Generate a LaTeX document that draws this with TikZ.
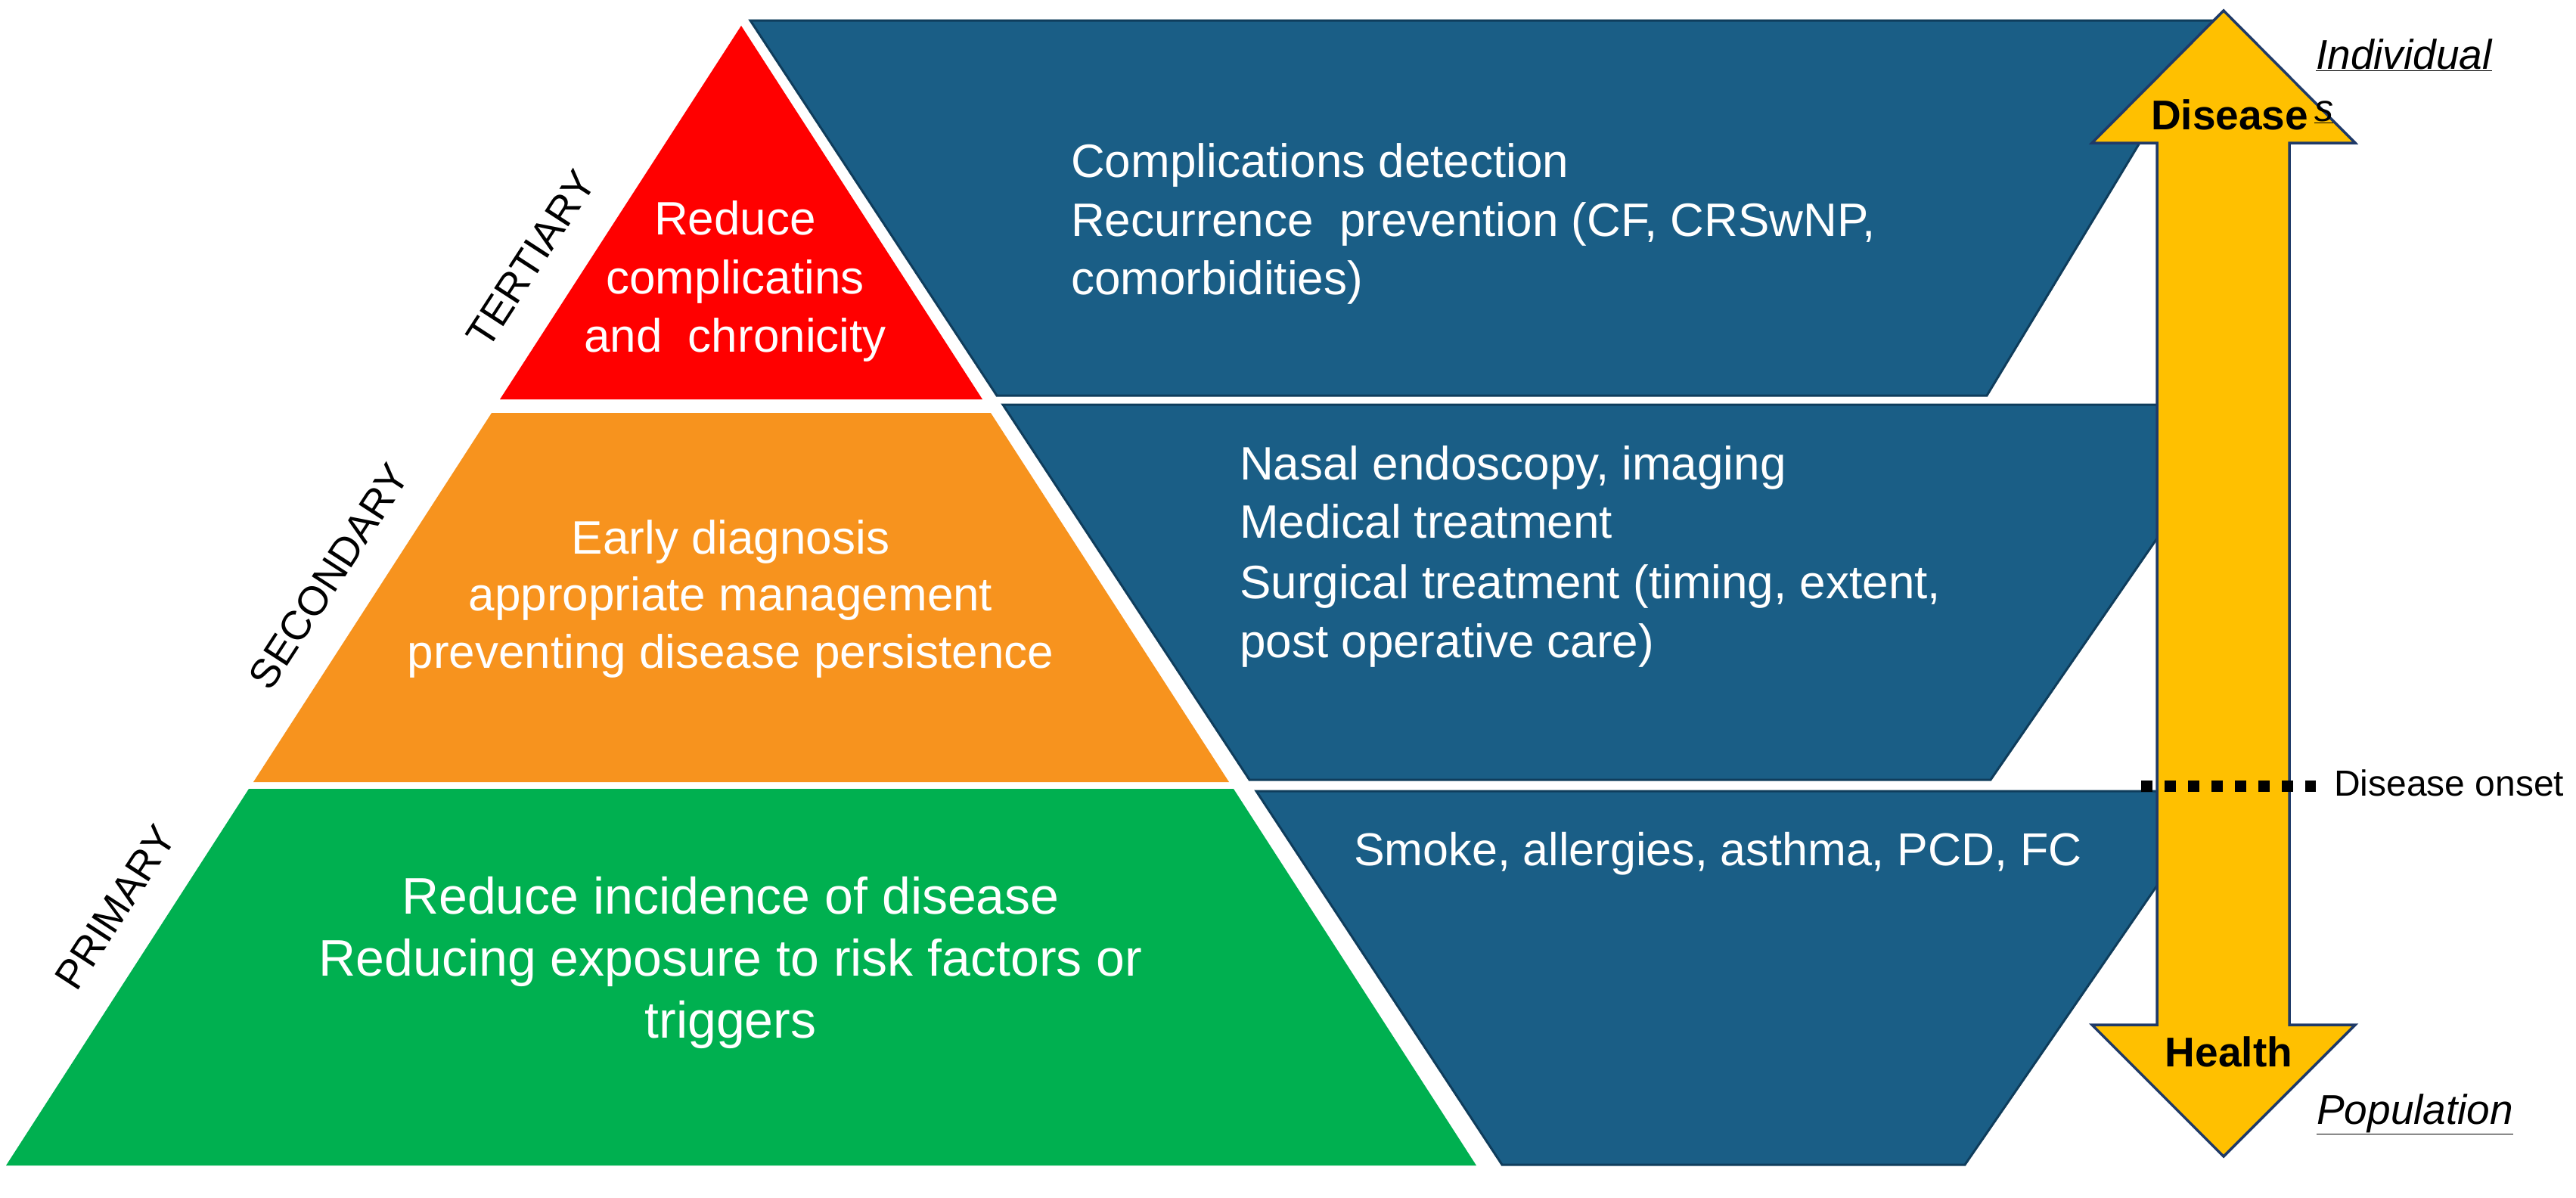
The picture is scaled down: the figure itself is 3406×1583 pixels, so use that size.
\documentclass[tikz,border=0pt]{standalone}
\usepackage{fontspec}
\setmainfont{Liberation Sans}
\definecolor{redf}{HTML}{FF0000}
\definecolor{orangef}{HTML}{F7931E}
\definecolor{greenf}{HTML}{00B050}
\definecolor{bluef}{HTML}{1A5E86}
\definecolor{blueline}{HTML}{0F3D5C}
\definecolor{yellowf}{HTML}{FFC000}
\definecolor{arrowline}{HTML}{1F3A68}
\tikzset{
  bluebox/.style={fill=bluef, draw=blueline, line width=3pt, line join=miter},
  pyr/.style={draw=none},
  wtxt/.style={text=white, inner sep=0pt, font=\fontsize{62}{78}\selectfont},
  gtxt/.style={text=white, inner sep=0pt, font=\fontsize{68}{82}\selectfont},
  lvl/.style={text=black, inner sep=0pt, font=\fontsize{54}{60}\selectfont, rotate=57},
  arrowbody/.style={fill=yellowf, draw=arrowline, line width=3.5pt, line join=miter},
  boldtxt/.style={text=black, inner sep=0pt, font=\fontsize{55}{60}\selectfont\bfseries},
  sidetxt/.style={text=black, inner sep=0pt, font=\fontsize{55}{60}\selectfont\itshape},
  onsettxt/.style={text=black, inner sep=0pt, font=\fontsize{48}{56}\selectfont},
  onsetline/.style={line width=15pt, dash pattern=on 15pt off 16pt, black},
}
\begin{document}
\begin{tikzpicture}[x=1pt,y=-1pt]
\useasboundingbox (0,0) rectangle (3406,1583);

% ---- pyramid ----
\fill[redf] (980,34) -- (1299,528) -- (661,528) -- cycle;
\fill[orangef] (650,546) -- (1310,546) -- (1625,1034) -- (335,1034) -- cycle;
\fill[greenf] (329,1043) -- (1631,1043) -- (1952,1541) -- (8,1541) -- cycle;

% ---- funnel ----
\draw[bluebox] (992,27) -- (2927,27) -- (2627,523) -- (1318,523) -- cycle;
\draw[bluebox] (1326,535) -- (2974,535) -- (2632,1031) -- (1652,1031) -- cycle;
\draw[bluebox] (1661,1046) -- (2938,1046) -- (2598,1540) -- (1986,1540) -- cycle;

% ---- level labels ----
\node[lvl] (ter) at (702,342) {TERTIARY};
\node[lvl] (sec) at (435,762) {SECONDARY};
\node[lvl] (pri) at (153,1200) {PRIMARY};

% ---- pyramid texts ----
\node[wtxt, anchor=base] (r1) at (972,310) {Reduce};
\node[wtxt, anchor=base] (r2) at (972,388) {complicatins};
\node[wtxt, anchor=base] (r3) at (972,465) {and\ \ chronicity};

\node[wtxt, anchor=base] (o1) at (966,732) {Early diagnosis};
\node[wtxt, anchor=base] (o2) at (966,807) {appropriate management};
\node[wtxt, anchor=base] (o3) at (966,883) {preventing disease persistence};

\node[gtxt, anchor=base] (g1) at (966,1208) {Reduce incidence of disease};
\node[gtxt, anchor=base] (g2) at (966,1290) {Reducing exposure to risk factors or};
\node[gtxt, anchor=base] (g3) at (966,1372) {triggers};

% ---- funnel texts ----
\node[wtxt, anchor=base west] (t1) at (1416,234) {Complications detection};
\node[wtxt, anchor=base west] (t2) at (1416,312) {Recurrence\ \ prevention (CF, CRSwNP,};
\node[wtxt, anchor=base west] (t3) at (1416,389) {comorbidities)};

\node[wtxt, anchor=base west] (s1) at (1639,634) {Nasal endoscopy, imaging};
\node[wtxt, anchor=base west] (s2) at (1639,711) {Medical treatment};
\node[wtxt, anchor=base west] (s3) at (1639,791) {Surgical treatment (timing, extent,};
\node[wtxt, anchor=base west] (s4) at (1639,869) {post operative care)};

\node[wtxt, anchor=base west, font=\fontsize{61}{78}\selectfont] (p1) at (1790,1144) {Smoke, allergies, asthma, PCD, FC};

% ---- double arrow ----
\draw[arrowbody] (2940,14) -- (3114,189) -- (3027,189) -- (3027,1355) -- (3114,1355)
  -- (2940,1529) -- (2766,1355) -- (2852,1355) -- (2852,189) -- (2766,189) -- cycle;
\node[boldtxt, anchor=base] (dis) at (2948,171) {Disease};
\node[boldtxt, anchor=base] (hea) at (2947,1410) {Health};

% ---- side texts ----
\node[sidetxt, anchor=base west] (ind) at (3062,91) {\underline{Individual}};
\node[sidetxt, anchor=base west, font=\fontsize{50}{56}\selectfont\itshape] (ss) at (3060,160) {\underline{s}};
\node[sidetxt, anchor=base west] (pop) at (3063,1486) {\underline{Population}};

% ---- disease onset ----
\coordinate (dl) at (2831,1039);
\coordinate (dr) at (3062,1039);
\draw[onsetline] (dl) -- (dr);
\node[onsettxt, anchor=base west] (ons) at (3086,1052) {Disease onset};
\end{tikzpicture}
\end{document}
